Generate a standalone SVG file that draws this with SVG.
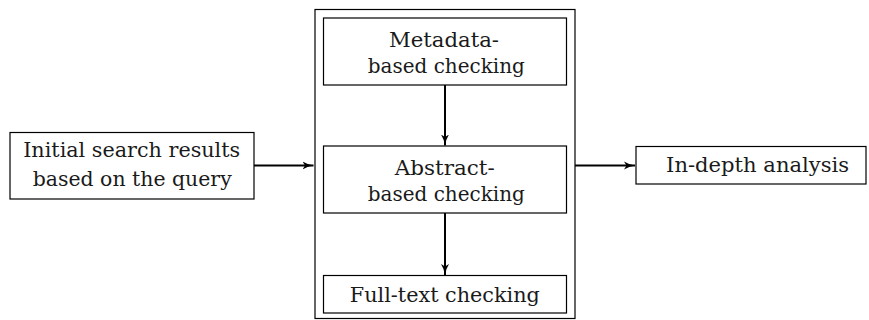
<svg xmlns="http://www.w3.org/2000/svg" width="869" height="320" viewBox="0 0 869 320">
<defs>
<marker id="ah" markerWidth="12" markerHeight="10" refX="11" refY="5" orient="auto" markerUnits="userSpaceOnUse">
<path d="M0,1 Q5,4.2 11,5 Q5,5.8 0,9 L2.5,5 Z" fill="#000"/>
</marker>
<style>
.box{fill:#fff;stroke:#000;stroke-width:1.2}
.outer{fill:none;stroke:#000;stroke-width:1.2}
.t{font-family:"DejaVu Serif","Liberation Serif",serif;font-size:20px;fill:#1a1a1a;text-anchor:middle}
.c{stroke:#000;stroke-width:2;fill:none;marker-end:url(#ah)}
</style>
</defs>
<g id="container"><rect class="outer" x="315" y="9.5" width="260" height="309"/></g>
<g id="initial"><rect class="box" x="10" y="132.5" width="244" height="66.5"/>
<text class="t" x="131.7" y="156.7" textLength="217" lengthAdjust="spacingAndGlyphs">Initial search results</text>
<text class="t" x="132.2" y="185.7" textLength="199" lengthAdjust="spacingAndGlyphs">based on the query</text></g>
<g id="metadata"><rect class="box" x="323.5" y="18" width="243" height="67"/>
<text class="t" x="444" y="46.7" textLength="110" lengthAdjust="spacingAndGlyphs">Metadata-</text>
<text class="t" x="446.3" y="73.3" textLength="157" lengthAdjust="spacingAndGlyphs">based checking</text></g>
<g id="abstract"><rect class="box" x="323.5" y="146" width="243" height="67"/>
<text class="t" x="444.7" y="174.7" textLength="100" lengthAdjust="spacingAndGlyphs">Abstract-</text>
<text class="t" x="446.3" y="201.3" textLength="157" lengthAdjust="spacingAndGlyphs">based checking</text></g>
<g id="fulltext"><rect class="box" x="323.5" y="275.5" width="243" height="37.5"/>
<text class="t" x="444.8" y="302" textLength="190" lengthAdjust="spacingAndGlyphs">Full-text checking</text></g>
<g id="indepth"><rect class="box" x="636" y="146.5" width="230" height="37.5"/>
<text class="t" x="757.6" y="172" textLength="183" lengthAdjust="spacingAndGlyphs">In-depth analysis</text></g>
<g id="connectors">
<line class="c" x1="254" y1="165.5" x2="313.5" y2="165.5"/>
<line class="c" x1="445" y1="85" x2="445" y2="145.5"/>
<line class="c" x1="445" y1="213" x2="445" y2="275"/>
<line class="c" x1="575" y1="165.5" x2="635" y2="165.5"/>
</g>
</svg>
